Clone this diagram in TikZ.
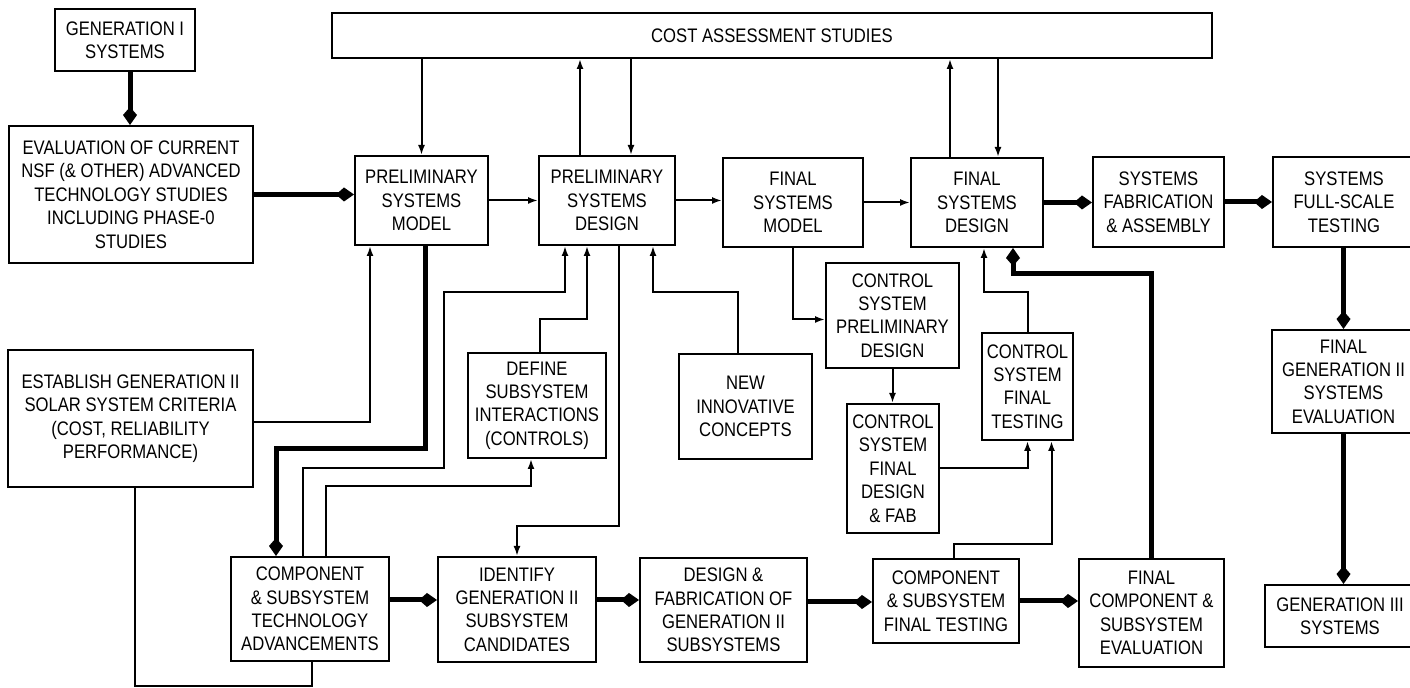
\documentclass[tikz,border=0pt]{standalone}
\usepackage{fontspec}
\newfontfamily\lettering{Liberation Sans}[FakeStretch=0.85]
\usetikzlibrary{arrows.meta}

\begin{document}
\begin{tikzpicture}[x=0.5pt,y=-0.5pt,
                      box/.style={draw, line width=1pt, align=center, inner sep=0pt,
                        font=\lettering\fontsize{9.8}{11.7}\selectfont},
                      sz/.style 2 args={minimum width=#1*0.5pt, minimum height=#2*0.5pt},
                      wire/.style={line width=1pt},
                      ln/.style={line width=1pt, -{Latex[length=5pt,width=3.5pt]}},
                      thk/.style={line width=2.5pt, -{Kite[length=9pt,width=7pt,inset=4pt]}}]
                      \useasboundingbox (0,0) rectangle (1410,688);
                      \node[box, sz={140}{62}] (gen1) at (125,40) {GENERATION I\\SYSTEMS};
                      \node[box, sz={244}{137}] (eval) at (131,194.5) {EVALUATION OF CURRENT\\NSF (\& OTHER) ADVANCED\\TECHNOLOGY STUDIES\\INCLUDING PHASE-0\\STUDIES};
                      \node[box, sz={880}{45}] (cost) at (772,35.5) {COST ASSESSMENT STUDIES};
                      \node[box, sz={133}{89}] (psm) at (421.5,200.5) {PRELIMINARY\\SYSTEMS\\MODEL};
                      \node[box, sz={136}{89}] (psd) at (607,200.5) {PRELIMINARY\\SYSTEMS\\DESIGN};
                      \node[box, sz={140}{89}] (fsm) at (793,202.5) {FINAL\\SYSTEMS\\MODEL};
                      \node[box, sz={132}{89}] (fsd) at (977,202.5) {FINAL\\SYSTEMS\\DESIGN};
                      \node[box, sz={131}{90}] (sfa) at (1158.5,202) {SYSTEMS\\FABRICATION\\\& ASSEMBLY};
                      \node[box, sz={142}{90}] (sft) at (1344,202) {SYSTEMS\\FULL-SCALE\\TESTING};
                      \node[box, sz={143}{103}] (fg2e) at (1343.5,381.5) {FINAL\\GENERATION II\\SYSTEMS\\EVALUATION};
                      \node[box, sz={150}{62}] (g3) at (1340,616) {GENERATION III\\SYSTEMS};
                      \node[box, sz={133}{105}] (cspd) at (892.5,315.5) {CONTROL\\SYSTEM\\PRELIMINARY\\DESIGN};
                      \node[box, sz={92}{129}] (csfdf) at (893,468.5) {CONTROL\\SYSTEM\\FINAL\\DESIGN\\\& FAB};
                      \node[box, sz={91}{107}] (csft) at (1027.5,386.5) {CONTROL\\SYSTEM\\FINAL\\TESTING};
                      \node[box, sz={133}{105}] (nic) at (745.5,406.5) {NEW\\INNOVATIVE\\CONCEPTS};
                      \node[box, sz={138}{105}] (dsi) at (537,405.5) {DEFINE\\SUBSYSTEM\\INTERACTIONS\\(CONTROLS)};
                      \node[box, sz={245}{137}] (est) at (130.5,418.5) {ESTABLISH GENERATION II\\SOLAR SYSTEM CRITERIA\\(COST, RELIABILITY\\PERFORMANCE)};
                      \node[box, sz={158}{104}] (csta) at (310,609) {COMPONENT\\\& SUBSYSTEM\\TECHNOLOGY\\ADVANCEMENTS};
                      \node[box, sz={158}{105}] (ig2) at (517,609.5) {IDENTIFY\\GENERATION II\\SUBSYSTEM\\CANDIDATES};
                      \node[box, sz={167}{104}] (dfg2) at (723.5,610) {DESIGN \&\\FABRICATION OF\\GENERATION II\\SUBSYSTEMS};
                      \node[box, sz={146}{84}] (csfint) at (946,601) {COMPONENT\\\& SUBSYSTEM\\FINAL TESTING};
                      \node[box, sz={145}{108}] (fcse) at (1151.5,613) {FINAL\\COMPONENT \&\\SUBSYSTEM\\EVALUATION};

                      \draw[thk] ([xshift=2.5pt]gen1.south) -- ([xshift=2.5pt]gen1.south |- eval.north);
                      \draw[thk] (eval.east) -- (eval.east -| psm.west);
                      \draw[thk] (fsd.east) -- (fsd.east -| sfa.west);
                      \draw[thk] (sfa.east) -- (sfa.east -| sft.west);
                      \draw[thk] (fg2e.north |- sft.south) -- (fg2e.north);
                      \draw[thk] (fg2e.south) -- (fg2e.south |- g3.north);
                      \draw[thk] ([xshift=1.75pt]psm.south) -- ++(0,203) -| ([xshift=-17pt]csta.north);
                      \draw[thk] ([yshift=4.5pt]csta.east) -- ([yshift=4.5pt]csta.east -| ig2.west);
                      \draw[thk] ([yshift=4.75pt]ig2.east) -- ([yshift=4.75pt]ig2.east -| dfg2.west);
                      \draw[thk] ([yshift=4pt]dfg2.east) -- ([yshift=4pt]dfg2.east -| csfint.west);
                      \draw[thk] (csfint.east) -- (csfint.east -| fcse.west);
                      \draw[thk] (fcse.north) -- ++(0,-284) -| ([xshift=18pt]fsd.south);

                      \draw[ln] (psm.north |- cost.south) -- (psm.north);
                      \draw[ln] ([xshift=-13.5pt]psd.north) -- ([xshift=-13.5pt]psd.north |- cost.south);
                      \draw[ln] ([xshift=12pt]psd.north |- cost.south) -- ([xshift=12pt]psd.north);
                      \draw[ln] ([xshift=-13.5pt]fsd.north) -- ([xshift=-13.5pt]fsd.north |- cost.south);
                      \draw[ln] ([xshift=10.5pt]fsd.north |- cost.south) -- ([xshift=10.5pt]fsd.north);
                      \draw[ln] (psm.east) -- (psd.west);
                      \draw[ln] (psd.east) -- (psd.east -| fsm.west);
                      \draw[ln] (fsm.east) -- (fsm.east -| fsd.west);
                      \draw[ln] (fsm.south) |- ([yshift=-2pt]cspd.west);
                      \draw[ln] (cspd.south) -- (cspd.south |- csfdf.north);
                      \draw[ln] (csfdf.east) -| (csft.south);
                      \draw[ln] (csft.north) -- ++(0,-40) -| ([xshift=3.5pt]fsd.south);
                      \draw[ln] ([xshift=4pt]csfint.north) -- ++(0,-14) -| ([xshift=12pt]csft.south);
                      \draw[ln] ([yshift=-1.75pt]est.east) -| ([xshift=-25.75pt]psm.south);
                      \draw[ln] ([xshift=-3.5pt]csta.north) -- ++(0,-88) -- ++(141,0) -- ++(0,-176) -| ([xshift=-21pt]psd.south);
                      \draw[ln] ([xshift=8pt]csta.north) -- ++(0,-70) -| ([xshift=-3pt]dsi.south);
                      \draw[ln] ([xshift=1.5pt]dsi.north) -- ++(0,-33) -| ([xshift=-10pt]psd.south);
                      \draw[ln] ([xshift=6pt]psd.south) -- ++(0,280) -| (ig2.north);
                      \draw[ln] ([xshift=-3.75pt]nic.north) -- ++(0,-61) -| ([xshift=23pt]psd.south);
                      \draw[wire] ([xshift=2.25pt]est.south) -- ++(0,198) -| ([xshift=1pt]csta.south);
                  \end{tikzpicture}
\end{document}
